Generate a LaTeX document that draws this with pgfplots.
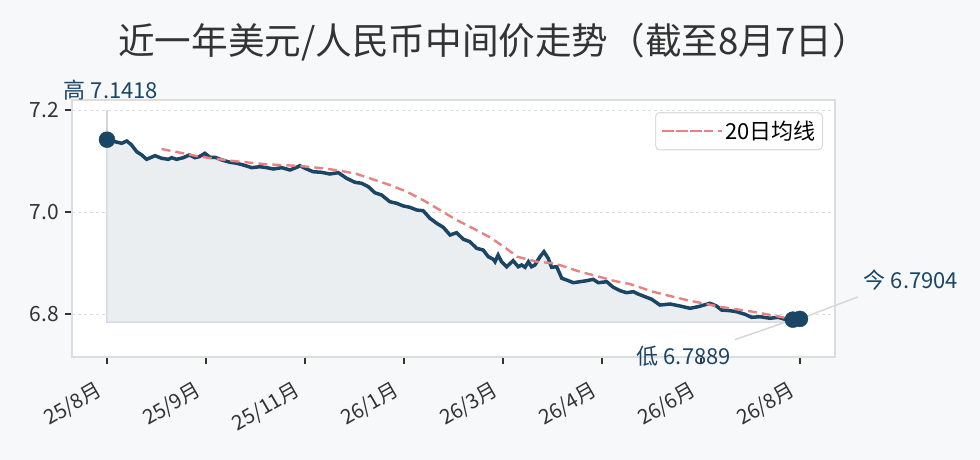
\documentclass[border=0pt]{standalone}
\usepackage{fontspec}
\setmainfont{Noto Sans CJK SC}
\usepackage{pgfplots}
\pgfplotsset{compat=1.18}
\usepackage{pgfplotstable}
\definecolor{bg}{HTML}{F7F8FA}
\definecolor{navy}{HTML}{1B4565}
\definecolor{ma}{HTML}{E88282}
\definecolor{frame}{HTML}{DDDDDD}
\definecolor{txt}{HTML}{333333}
\definecolor{fillc}{HTML}{EAEEF1}
\definecolor{fedge}{HTML}{D6DCE1}
\definecolor{ann}{HTML}{D5D5D5}

\pgfplotstableread{
x y
0 7.1418
5.2 7.1347
7.0 7.1392
8.7 7.1314
10.5 7.1182
12.3 7.1118
14.0 7.1033
17.0 7.1104
19.3 7.1053
21.7 7.1033
22.9 7.1065
24.6 7.1033
27.0 7.1065
29.1 7.1118
31.1 7.1065
32.6 7.1084
34.6 7.1151
36.4 7.1073
38.2 7.1073
40.6 7.1020
43.5 7.0975
45.9 7.0955
48.2 7.0922
51.2 7.0869
54.1 7.0888
56.5 7.0869
58.8 7.0843
61.8 7.0869
64.7 7.0824
67.1 7.0876
68.2 7.0908
70.6 7.0843
72.9 7.0790
75.9 7.0778
78.8 7.0745
81.8 7.0771
84.7 7.0661
87.7 7.0582
90.0 7.0563
92.4 7.0496
94.7 7.0378
97.1 7.0333
100.0 7.0202
102.4 7.0171
104.8 7.0118
107.1 7.0092
109.5 7.0039
111.8 7.0025
114.2 6.9876
116.6 6.9778
118.9 6.9700
121.3 6.9549
123.6 6.9594
126.0 6.9465
128.3 6.9418
130.7 6.9288
133.0 6.9255
134.8 6.9124
136.6 6.9073
137.2 6.9025
138.3 6.9157
139.5 6.9025
141.3 6.8927
143.6 6.9045
145.4 6.8927
146.6 6.8961
147.8 6.8916
149.0 6.9025
150.1 6.8927
151.3 6.8961
153.1 6.9124
154.5 6.9222
156.0 6.9092
157.2 6.8916
159.0 6.8927
160.8 6.8700
162.5 6.8667
164.9 6.8614
167.2 6.8633
169.6 6.8653
171.9 6.8680
173.7 6.8614
176.7 6.8633
179.0 6.8524
181.4 6.8457
183.7 6.8418
186.1 6.8437
187.8 6.8392
189.6 6.8353
192.6 6.8288
195.5 6.8176
199.1 6.8196
202.6 6.8157
206.1 6.8112
209.0 6.8143
213.2 6.8210
215.5 6.8157
217.3 6.8078
220.3 6.8065
222.6 6.8045
225.6 6.7994
227.9 6.7935
230.9 6.7947
234.4 6.7916
237.3 6.7935
239.7 6.7896
242.5 6.7889
245.0 6.7904
}\price

\pgfplotstableread{
x y
19.3 7.1235
27.0 7.1151
32.9 7.1084
44.6 7.1000
56.5 7.0935
68.2 7.0902
76.4 7.0857
82.4 7.0810
88.3 7.0745
94.0 7.0641
100.0 7.0529
106.0 7.0398
111.7 7.0235
117.7 7.0039
123.6 6.9843
129.4 6.9680
135.4 6.9504
141.3 6.9280
145.0 6.9124
152.1 6.9025
157.7 6.8994
161.2 6.8941
167.2 6.8829
173.1 6.8745
179.0 6.8653
184.9 6.8588
193.0 6.8437
204.8 6.8275
216.7 6.8143
228.3 6.8045
240.2 6.7922
245.0 6.7910
}\mavg

\begin{document}
\begin{tikzpicture}
\fill[bg] (0pt,0pt) rectangle (980pt,460pt);
\useasboundingbox (0pt,0pt) rectangle (980pt,460pt);
\node[txt, font=\fontsize{36.6}{36.6}\selectfont] at (493.5pt,418pt) {近一年美元/人民币中间价走势（截至8月7日）};
\begin{axis}[
  at={(72pt,103pt)}, anchor=south west,
  scale only axis, width=763pt, height=257pt,
  xmin=-12.37, xmax=257.4, ymin=6.7157, ymax=7.2196,
  axis background/.style={fill=white},
  axis line style={frame, line width=1.5pt},
  xtick={0,35,70,105,140,175,210,245},
  xticklabels={25/8月,25/9月,25/11月,26/1月,26/3月,26/4月,26/6月,26/8月},
  ytick={6.8,7.0,7.2}, yticklabels={6.8,7.0,7.2},
  xtick pos=lower, ytick pos=left,
  tick align=outside, major tick length=7pt,
  tick style={txt, line width=1.5pt},
  ymajorgrids, grid style={dashed, frame, line width=0.9pt},
  x tick label style={inner sep=0pt, xshift=-11.5pt, yshift=-16pt, rotate=30, anchor=north east, font=\fontsize{20.5}{20.5}\selectfont, text=txt},
  y tick label style={inner sep=0pt, xshift=-6pt, font=\fontsize{21}{21}\selectfont, text=txt},
  clip=false,
  legend style={at={(0.9843,0.953)}, anchor=north east, draw=frame, line width=1.2pt,
    rounded corners=4pt, fill=white, font=\fontsize{22}{22}\selectfont,
    inner xsep=5pt, inner ysep=6.5pt},
  legend cell align=left,
]
\addplot[fill=fillc, draw=fedge, line width=1.5pt, forget plot] table[x=x,y=y] {\price}
  -- (axis cs:245,6.7843) -- (axis cs:0,6.7843) -- cycle;
\addplot[navy, line width=3.5pt, forget plot] table[x=x,y=y] {\price};
\addplot[ma, line width=2.4pt, dash pattern=on 9pt off 5pt,
  legend image code/.code={\path (0pt,0pt) -- (60pt,0pt); \draw[ma, line width=2.4pt, dash pattern=on 9pt off 5pt] (3pt,0pt) -- (49pt,0pt);}]
  table[x=x,y=y] {\mavg};
\addlegendentry{20日均线}
\draw[ann, line width=1.4pt] (axis cs:0,7.1418) ++(0pt,9pt) -- ++(0pt,21pt);
\draw[ann, line width=1.4pt] (axis cs:245,6.7904) -- ++(58pt,22pt);
\draw[ann, line width=1.4pt] (axis cs:242.5,6.7889) -- ++(-58pt,-20pt);
\addplot[only marks, mark=*, mark size=8pt, navy, forget plot] coordinates {(0,7.1418) (242.5,6.7889) (245,6.7904)};
\node[text=navy, font=\fontsize{22}{22}\selectfont] at (axis cs:0,7.1418) [xshift=4pt, yshift=50pt] {高 7.1418};
\node[text=navy, font=\fontsize{22}{22}\selectfont] at (axis cs:245,6.7904) [xshift=111pt, yshift=39pt] {今 6.7904};
\node[text=navy, font=\fontsize{22}{22}\selectfont] at (axis cs:242.5,6.7889) [xshift=-109pt, yshift=-37pt] {低 6.7889};
\end{axis}
\end{tikzpicture}
\end{document}
